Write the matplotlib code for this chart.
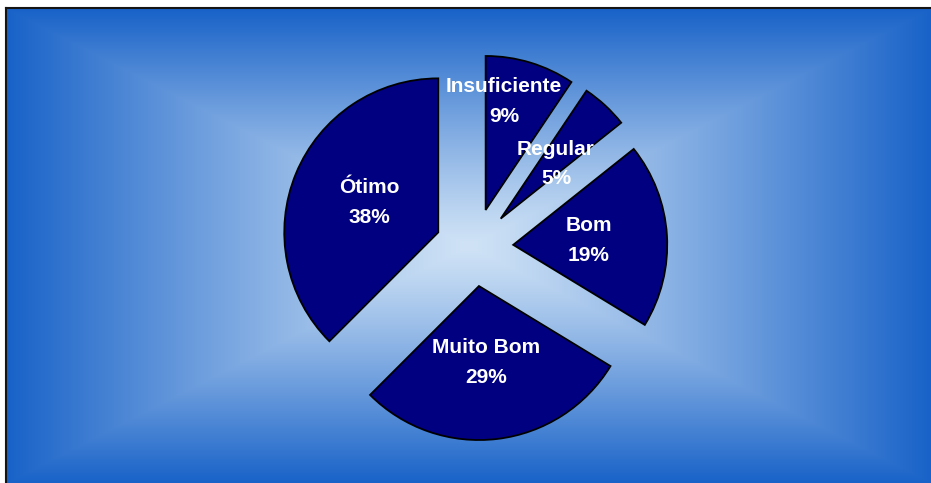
import numpy as np
import matplotlib
matplotlib.use("Agg")
import matplotlib.pyplot as plt
from matplotlib.lines import Line2D

# ---- data ----
categories = ["Insuficiente", "Regular", "Bom", "Muito Bom", "Ótimo"]
values = [9.4, 4.9, 19.4, 28.8, 37.5]
pct_labels = [f"{round(v)}%" for v in values]

# ---- layout (pixels) ----
W, H = 931, 483
R = 154.0             # pie radius in px
CX, CY = 474.3, 247.3 # pie centre in px (from top-left)
EXPLODE = 39.0 / R
# label anchor: (x centre, baseline line1, baseline line2) in px
label_pos = [(504, 92, 122), (556, 155, 184), (589, 231, 261),
             (486, 353, 383), (369, 193, 223)]

def px2d(px, py):
    return (px - CX) / R, (CY - py) / R

fig = plt.figure(figsize=(W / 100, H / 100), dpi=100)
fig.patch.set_facecolor("white")
ax = fig.add_axes([0, 0, 1, 1])

# ---- background rectangular "from centre" gradient ----
x0, x1, y0, y1 = 7, 931, 9, 483
gw, gh = x1 - x0, y1 - y0
gx = np.arange(gw) + 0.5
gy = np.arange(gh) + 0.5
GX, GY = np.meshgrid(gx, gy)
hx, hy = gw / 2, gh / 2
t = np.maximum(np.abs(GX - hx) / hx, np.abs(GY - hy) / hy)
t = np.clip(t, 0, 1) ** 1.15
c_in = np.array([208, 227, 246]) / 255
c_out = np.array([24, 98, 200]) / 255
img = c_in[None, None, :] * (1 - t[..., None]) + c_out[None, None, :] * t[..., None]
l, top = px2d(x0, y0)
r, bot = px2d(x1, y1)
ax.imshow(img, extent=(l, r, bot, top), origin="upper", zorder=0,
          interpolation="bilinear", aspect="auto")

# ---- pie ----
wedges, _ = ax.pie(values, explode=[EXPLODE] * len(values), startangle=90,
                   counterclock=False, colors=["#000080"] * len(values),
                   radius=1, center=(0, 0),
                   wedgeprops=dict(edgecolor="black", linewidth=1.3,
                                   joinstyle="miter", zorder=2))

# ---- labels ----
for name, pct, (lx, b1, b2) in zip(categories, pct_labels, label_pos):
    for txt, b in ((name, b1), (pct, b2)):
        x, y = px2d(lx, b)
        ax.text(x, y, txt, ha="center", va="baseline", color="white",
                fontsize=15, fontweight="bold",
                family=["Liberation Sans", "DejaVu Sans"], zorder=3)

# ---- limits ----
xl0, yl0 = px2d(0, H)
xl1, yl1 = px2d(W, 0)
ax.set_xlim(xl0, xl1)
ax.set_ylim(yl0, yl1)
ax.set_aspect("auto")
ax.axis("off")

# ---- chart frame (top + left) ----
fig.add_artist(Line2D([6, W], [H - 8, H - 8], transform=None,
                      color="#151515", linewidth=1.5, zorder=5))
fig.add_artist(Line2D([6, 6], [0, H - 8], transform=None,
                      color="#151515", linewidth=1.5, zorder=5))

fig.savefig("out.png", dpi=100, facecolor="white")
